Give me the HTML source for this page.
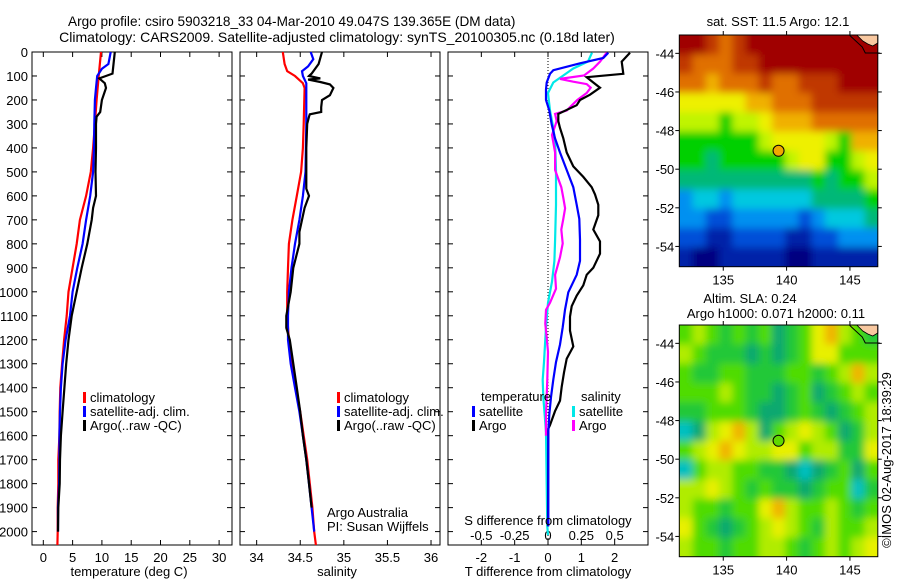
<!DOCTYPE html>
<html><head><meta charset="utf-8">
<style>
html,body{margin:0;padding:0;background:#fff;}
svg{display:block;font-family:"Liberation Sans",sans-serif;}
text{font-size:13px;fill:#000;}
.ttl{font-size:14px;}
</style></head>
<body>
<svg id="chart" width="900" height="580" viewBox="0 0 900 580" xmlns="http://www.w3.org/2000/svg">
<defs>
<filter id="blur" x="-10%" y="-10%" width="120%" height="120%"><feGaussianBlur stdDeviation="4"/></filter>
<clipPath id="clip1"><rect x="679.3" y="35" width="198.5" height="231.7"/></clipPath>
<clipPath id="clip2"><rect x="679.3" y="325" width="198.5" height="231.7"/></clipPath>
</defs>
<text class="ttl" x="68" y="26" text-anchor="start" style="font-size:13.6px">Argo profile: csiro 5903218_33 04-Mar-2010 49.047S 139.365E (DM data)</text>
<text class="ttl" x="337" y="42" text-anchor="middle">Climatology: CARS2009. Satellite-adjusted climatology: synTS_20100305.nc (0.18d later)</text>
<g id="plots"></g>
</svg>
<script>
// ---------- depth axis ----------
const depthTicks = [0,100,200,300,400,500,600,700,800,900,1000,1100,1200,1300,1400,1500,1600,1700,1800,1900,2000];
// ---------- panel 1: temperature ----------
const tempTicks = [0,5,10,15,20,25,30];
const tClimDepth = [0,100,200,300,400,500,600,700,800,900,1000,1100,1200,1300,1400,1500,1600,1700,1800,1900,2000,2056];
const tClimVal   = [9.85,9.45,9.1,8.8,8.5,8.1,7.3,6.25,5.7,5.0,4.3,4.0,3.55,3.2,2.9,2.8,2.75,2.55,2.55,2.45,2.45,2.4];
const tSatDepth = [0,50,70,100,150,200,300,400,500,600,700,800,900,1000,1100,1200,1300,1400,1500,1600,1700,1800,1900,2000];
const tSatVal   = [11.5,11.1,10.0,9.2,9.0,8.8,8.7,8.65,8.5,8.0,7.3,6.7,5.8,5.0,4.55,3.8,3.3,3.0,2.85,2.75,2.75,2.7,2.5,2.5];
const tArgoDepth = [0,90,110,130,150,200,250,270,300,400,500,600,650,700,800,900,1000,1100,1200,1300,1400,1500,1600,1700,1800,1900,2000];
const tArgoVal   = [12.2,11.8,9.55,10.5,10.7,10.0,9.7,9.1,9.0,9.0,8.9,9.0,8.5,8.25,7.5,6.55,5.7,4.85,4.3,3.9,3.6,3.3,3.0,2.85,2.8,2.55,2.5];
// ---------- panel 2: salinity ----------
const salTicks = [34,34.5,35,35.5,36];
const sClimDepth = [0,50,80,100,130,150,300,400,500,600,700,800,900,1000,1100,1200,1300,1400,1500,1600,1700,1800,1900,2000,2056];
const sClimVal   = [34.30,34.32,34.35,34.44,34.53,34.55,34.54,34.53,34.51,34.46,34.41,34.37,34.36,34.35,34.35,34.37,34.40,34.45,34.50,34.54,34.58,34.61,34.64,34.66,34.68];
const sSatDepth = [0,30,60,80,100,130,300,500,600,700,800,900,1000,1100,1200,1300,1400,1500,1600,1700,1800,1900,2000];
const sSatVal   = [34.62,34.65,34.59,34.52,34.53,34.57,34.57,34.56,34.53,34.49,34.44,34.40,34.37,34.36,34.36,34.39,34.44,34.49,34.53,34.57,34.60,34.63,34.66];
const sArgoDepth = [0,50,90,100,110,115,125,135,150,180,200,230,250,260,270,300,400,500,570,600,650,700,750,800,900,1000,1100,1150,1200,1300,1400,1500,1600,1700,1800,1900];
const sArgoVal   = [34.75,34.71,34.63,34.60,34.73,34.59,34.73,34.84,34.88,34.84,34.75,34.74,34.74,34.61,34.60,34.58,34.57,34.57,34.57,34.60,34.55,34.52,34.49,34.49,34.42,34.39,34.34,34.34,34.38,34.42,34.46,34.50,34.53,34.57,34.60,34.63];
// ---------- panel 3: differences ----------
const dTTicks = [-2,-1,0,1,2];
const dSTicks = [-0.5,-0.25,0,0.25,0.5];
const dSTickLabels = ["-0.5","-0.25","0","0.25","0.5"];
const dTArgoDepth = [3,40,91,105,127,149,178,200,222,258,288,317,360,419,477,521,564,594,637,681,740,790,841,900,929,973,1016,1060,1104,1162,1228,1279,1337,1396,1454,1498,1556,1571,1978];
const dTArgoVal   = [2.46,2.21,2.26,1.16,1.36,1.56,1.26,0.96,0.86,0.31,0.31,0.36,0.46,0.56,0.76,1.06,1.31,1.41,1.51,1.51,1.36,1.56,1.56,1.36,1.16,1.06,0.86,0.71,0.66,0.66,0.76,0.56,0.48,0.41,0.36,0.21,0.06,0.01,0.0];
const dTSatDepth = [3,25,47,76,91,127,156,200,244,302,360,419,492,564,637,696,783,871,929,1002,1075,1148,1220,1293,1366,1439,1512,1585,1978];
const dTSatVal   = [1.81,1.66,0.96,0.16,0.06,-0.04,-0.06,-0.06,0.04,0.11,0.21,0.36,0.56,0.76,0.86,0.94,0.96,0.96,0.86,0.61,0.51,0.44,0.36,0.24,0.16,0.09,0.04,0.01,0.01];
const dSSatDepth = [3,40,69,98,127,171,244,317,375,492,637,783,871,958,1046,1148,1293,1366,1439,1585,1804,1978,2015];
const dSSatVal   = [0.33,0.30,0.19,0.115,0.04,0.0,0.015,0.04,0.053,0.06,0.06,0.053,0.048,0.03,0.0,-0.015,-0.03,-0.04,-0.035,-0.015,-0.01,-0.005,0.0];
const dSArgoDepth = [3,40,69,98,112,124,134,149,171,200,222,244,258,288,346,419,492,564,608,652,696,740,798,856,929,987,1046,1075,1133,1191,1250,1366,1512,1600];
const dSArgoVal   = [0.44,0.39,0.34,0.27,0.09,0.19,0.29,0.32,0.29,0.22,0.18,0.14,0.053,0.065,0.03,0.053,0.053,0.10,0.115,0.128,0.115,0.10,0.11,0.09,0.053,0.06,0.015,-0.015,-0.02,-0.01,0.0,-0.005,-0.015,-0.015];
// ---------- maps ----------
const lonTicks = [135,140,145];
const latTicks = [-44,-46,-48,-50,-52,-54];
const sstGrid = [
 [12,12,11,10,11,12,12,12,12,12,12,12,12,12,12],
 [11,10,10,10,11,11,12,12,12,12,12,12,12,12,12],
 [10,10,9,10,10,10,11,10,10,11,11,11,12,12,12],
 [8,8,8,8,8,9,9,10,10,10,11,11,11,11,11],
 [7,7,7,6,7,7,8,9,9,9,10,10,10,10,10],
 [6,6,6,6,6,6,7,8,8,8,8,7,6,9,9],
 [6,6,5,6,6,6,6,6,7,8,8,6,6,7,8],
 [5,5,5,5,5,5,5,5,5,5,6,5,6,6,7],
 [3,4,4,3,4,4,4,4,4,4,5,5,5,5,6],
 [3,3,2,2,3,3,3,3,3,2,3,4,4,4,5],
 [2,2,1,1,2,2,2,2,1,1,2,2,3,3,3],
 [1,0,0,1,1,1,1,1,0,0,1,1,1,1,1]];
const slaGrid = [
 [3,4,3,2,3,2,3,1,2,3,5,6,4,3,2],
 [4,3,2,2,2,1,2,1,2,3,5,5,3,3,3],
 [3,2,2,3,3,2,2,2,3,3,2,3,4,6,4],
 [3,3,3,4,3,2,2,1,2,3,1,2,3,4,3],
 [2,2,3,3,3,2,1,1,2,3,2,1,2,3,4],
 [0,1,4,5,6,4,1,3,4,5,4,3,1,2,4],
 [3,4,5,6,5,4,4,5,5,3,4,4,2,2,5],
 [0,3,4,4,3,3,2,2,1,0,1,2,3,1,3],
 [4,4,5,4,3,2,3,2,2,1,2,3,3,0,2],
 [4,3,3,2,3,3,5,6,4,3,3,4,3,2,3],
 [5,3,2,1,2,3,4,5,4,3,2,4,3,3,4],
 [4,3,3,2,3,3,4,4,3,2,3,4,3,4,5]];
const argoLon = 139.365, argoLat = -49.047;

const NS = "http://www.w3.org/2000/svg";
const root = document.getElementById("plots");
function mk(tag, attrs, parent){ const e=document.createElementNS(NS,tag); for(const k in attrs) e.setAttribute(k,attrs[k]); (parent||root).appendChild(e); return e; }
function txt(x,y,s,anchor,parent){ const e=mk("text",{x:x,y:y,"text-anchor":anchor||"middle"},parent); e.textContent=s; return e; }

const Y0=52, Y1=545, DMAX=(Y1-Y0)/0.2398;
const yD = d => Y0 + d/DMAX*(Y1-Y0);
function xS(p){ return v => p.x0 + (v-p.vmin)/(p.vmax-p.vmin)*(p.x1-p.x0); }

const P1={x0:32,x1:232,vmin:-1.93,vmax:32.2};
const P2={x0:240,x1:440,vmin:33.809,vmax:36.103};
const P3T={x0:448,x1:648,vmin:-3,vmax:3};
const P3S={x0:448,x1:648,vmin:-0.75,vmax:0.75};

function frame(p,name){
  const r=mk("rect",{x:p.x0,y:Y0,width:p.x1-p.x0,height:Y1-Y0,fill:"none",stroke:"#000","stroke-width":1});
  
  
  depthTicks.forEach(d=>{
    const y=yD(d);
    const t1=mk("line",{x1:p.x0,x2:p.x0+5,y1:y,y2:y,stroke:"#000"});
    
    
    const t2=mk("line",{x1:p.x1-5,x2:p.x1,y1:y,y2:y,stroke:"#000"});
    
    
  });
}
function xticks(p,ticks,labels,ly,name){
  const f=xS(p);
  ticks.forEach((v,i)=>{
    const x=f(v);
    const a=mk("line",{x1:x,x2:x,y1:Y1,y2:Y1-5,stroke:"#000"});
    
    
    const b=mk("line",{x1:x,x2:x,y1:Y0,y2:Y0+5,stroke:"#000"});
    
    
    if(ly){ const t=txt(x,ly,labels?labels[i]:String(v));
      
       }
  });
}
function series(p,depths,vals,color,name){
  const f=xS(p);
  const pts=depths.map((d,i)=>f(vals[i]).toFixed(1)+","+yD(d).toFixed(1)).join(" ");
  const l=mk("polyline",{points:pts,fill:"none",stroke:color,"stroke-width":2.2,"stroke-linejoin":"miter"});
  
  
}
function legendEntry(x,y,color,label,name){
  const m=mk("rect",{x:x,y:y-10,width:3,height:11,fill:color});
  
  
  const t=txt(x+7,y,label,"start");
  
  
}

depthTicks.forEach(d=>{ const t=txt(28,yD(d)+5,String(d),"end");
  
   });

// panel 1
frame(P1,"temperature-panel");
xticks(P1,tempTicks,null,562,"temperature-x");
series(P1,tClimDepth,tClimVal,"#ff0000","temp-climatology-line");
series(P1,tSatDepth,tSatVal,"#0000ff","temp-satellite-line");
series(P1,tArgoDepth,tArgoVal,"#000000","temp-argo-line");
let t=txt(129,576,"temperature (deg C)");  
legendEntry(83,402,"#ff0000","climatology","legend-climatology");
legendEntry(83,416,"#0000ff","satellite-adj. clim.","legend-satellite-adj");
legendEntry(83,430,"#000000","Argo(..raw -QC)","legend-argo");

// panel 2
frame(P2,"salinity-panel");
xticks(P2,salTicks,null,562,"salinity-x");
series(P2,sClimDepth,sClimVal,"#ff0000","sal-climatology-line");
series(P2,sSatDepth,sSatVal,"#0000ff","sal-satellite-line");
series(P2,sArgoDepth,sArgoVal,"#000000","sal-argo-line");
t=txt(337,576,"salinity");  
legendEntry(337,402,"#ff0000","climatology","legend-climatology-2");
legendEntry(337,416,"#0000ff","satellite-adj. clim.","legend-satellite-adj-2");
legendEntry(337,430,"#000000","Argo(..raw -QC)","legend-argo-2");
t=txt(327,517,"Argo Australia","start");  
t=txt(327,531,"PI: Susan Wijffels","start");  

// panel 3
frame(P3T,"difference-panel");
xticks(P3T,dTTicks,null,562,"t-diff-x");
const fs=xS(P3S);
dSTicks.forEach((v,i)=>{ const tl=txt(fs(v),540,dSTickLabels[i]);
  
   });
const zl=mk("line",{x1:xS(P3T)(0),x2:xS(P3T)(0),y1:Y0,y2:Y1,stroke:"#000","stroke-dasharray":"1,2"});


series(P3S,dSSatDepth,dSSatVal,"#00e8e8","sal-diff-satellite-line");
series(P3S,dSArgoDepth,dSArgoVal,"#ff00ff","sal-diff-argo-line");
series(P3T,dTArgoDepth,dTArgoVal,"#000000","temp-diff-argo-line");
series(P3T,dTSatDepth,dTSatVal,"#0000ff","temp-diff-satellite-line");
t=txt(481,401,"temperature","start");  
t=txt(581,401,"salinity","start");  
legendEntry(472,416,"#0000ff","satellite","legend-temp-satellite");
legendEntry(472,430,"#000000","Argo","legend-temp-argo");
legendEntry(572,416,"#00e8e8","satellite","legend-sal-satellite");
legendEntry(572,430,"#ff00ff","Argo","legend-sal-argo");
t=txt(548,525,"S difference from climatology");  
t=txt(548,576,"T difference from climatology");  

// ---------- maps ----------
const sstColors=["#000080","#0020a8","#0050d8","#0090f0","#00c8e0","#00b878","#00d000","#c0f400","#eef000","#f0b000","#e07000","#c03800","#a00000"];
const slaColors=["#00c0c0","#10a870","#20c838","#50dc00","#b0ec00","#e8f000","#f0b400"];
const LON0=131.53, LON1=147.2, LAT0=-43.05, LAT1=-55.05;
function map(mx0,my0,grid,colors,name,markerFill,clipId){
  const mx1=mx0+198.5, my1=my0+231.7;
  const lx=v=>mx0+(v-LON0)/(LON1-LON0)*(mx1-mx0);
  const ly=v=>my0+(v-LAT0)/(LAT1-LAT0)*(my1-my0);
  const g=mk("g",{});
  
  
  const cg=mk("g",{"clip-path":"url(#"+clipId+")"},g);
  
  
  const bg=mk("g",{filter:"url(#blur)"},cg);
  
  
  const rows=grid.length, cols=grid[0].length;
  const cw=(mx1-mx0)/cols, ch=(my1-my0)/rows, pad=14;
  grid.forEach((row,r)=>row.forEach((v,c)=>{
    let x=mx0+c*cw, y=my0+r*ch, w=cw+0.6, h=ch+0.6;
    if(c===0){x-=pad;w+=pad;} if(c===cols-1){w+=pad;}
    if(r===0){y-=pad;h+=pad;} if(r===rows-1){h+=pad;}
    const cell=mk("rect",{x:x.toFixed(2),y:y.toFixed(2),width:w.toFixed(2),height:h.toFixed(2),fill:colors[v]},bg);
    
    
  }));
  const land=mk("polygon",{points:`${mx1-21},${my0} ${mx1},${my0} ${mx1},${my0+8} ${mx1-5},${my0+11} ${mx1-10},${my0+9} ${mx1-15},${my0+6}`,fill:"#f8c8a0",stroke:"#000","stroke-width":0.8},g);
  
  
  const coast=mk("polyline",{points:`${mx0+170},${my0} ${mx0+183},${my0+12} ${mx0+186},${my0+18} ${mx1+2},${my0+18}`,fill:"none",stroke:"#000","stroke-width":1},g);
  
  
  const fr=mk("rect",{x:mx0,y:my0,width:mx1-mx0,height:my1-my0,fill:"none",stroke:"#000"},g);
  
  
  lonTicks.forEach(v=>{ const x=lx(v);
    const a=mk("line",{x1:x,x2:x,y1:my1,y2:my1+4,stroke:"#000"},g);
    
    
    const b=mk("line",{x1:x,x2:x,y1:my0,y2:my0-4,stroke:"#000"},g);
    
    
    const l=txt(x,my1+18,String(v),"middle",g);
    
    
  });
  latTicks.forEach(v=>{ const y=ly(v);
    const a=mk("line",{x1:mx0,x2:mx0-4,y1:y,y2:y,stroke:"#000"},g);
    
    
    const b=mk("line",{x1:mx1,x2:mx1+4,y1:y,y2:y,stroke:"#000"},g);
    
    
    const l=txt(mx0-5,y+5,String(v),"end",g);
    
    
  });
  const c=mk("circle",{cx:lx(argoLon),cy:ly(argoLat),r:5.5,fill:markerFill,stroke:"#000","stroke-width":1},g);
  
  
}
map(679.3,35,sstGrid,sstColors,"sst-map","#f0a800","clip1");
map(679.3,325,slaGrid,slaColors,"sla-map","#60d800","clip2");
t=txt(778,26,"sat. SST: 11.5 Argo: 12.1");  
t=txt(750,303,"Altim. SLA: 0.24");  
t=txt(776,318,"Argo h1000: 0.071 h2000: 0.11");  
t=mk("text",{x:0,y:0,"text-anchor":"middle",transform:"translate(891,460) rotate(-90)"});
t.textContent="©IMOS 02-Aug-2017 18:39:29";


</script>
</body></html>
